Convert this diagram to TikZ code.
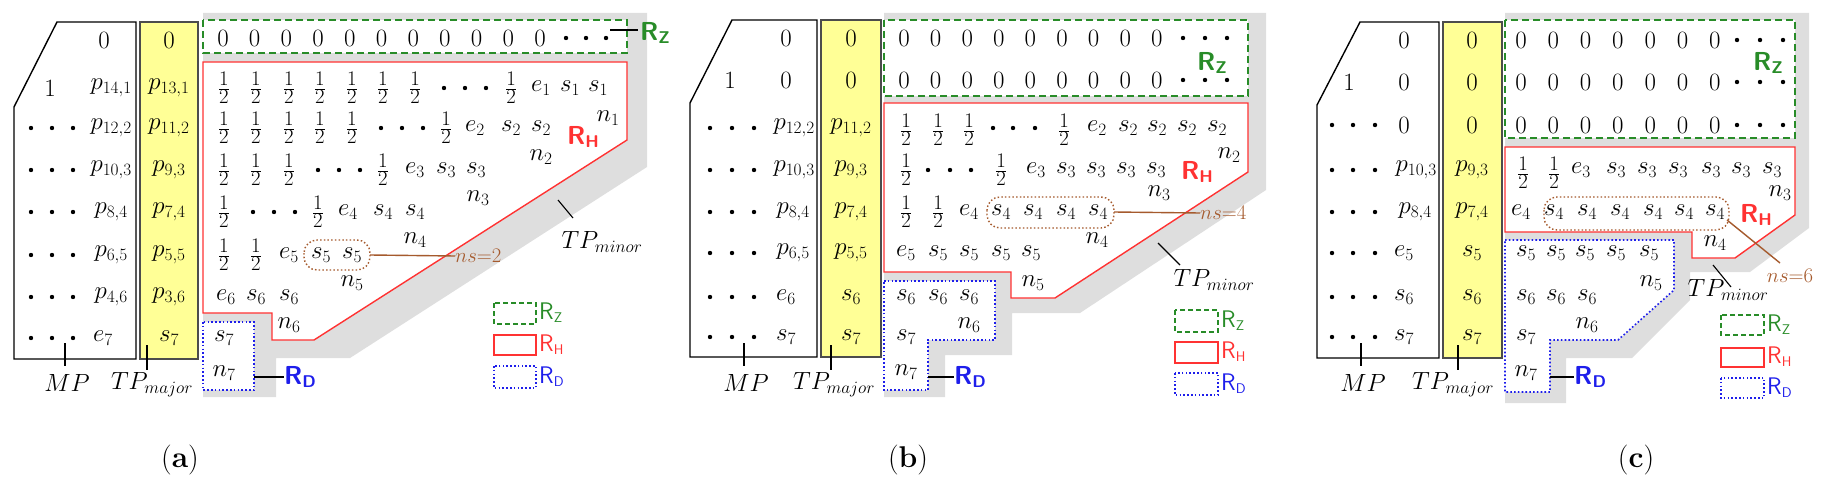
\documentclass[tikz,border=0pt]{standalone}
\usepackage{amsmath}
\definecolor{shd}{RGB}{222,222,222}
\definecolor{gz}{RGB}{40,140,40}
\definecolor{rr}{RGB}{255,50,50}
\definecolor{bd}{RGB}{30,30,235}
\definecolor{br}{RGB}{165,90,45}
\definecolor{yel}{RGB}{255,255,150}
\newcommand\hf{{\fontsize{31}{34}\selectfont$\frac{1}{2}$}}
\newcommand\tdots[4]{\foreach \xx in {#1,#2,#3} \fill (\xx,#4) circle (2.2);}
\newcommand\RL[1]{\textsf{\bfseries R}\raisebox{-0.35ex}{\fontsize{17}{20}\selectfont\textsf{\bfseries #1}}}
\newcommand\RS[1]{\textsf{R}\raisebox{-0.3ex}{\fontsize{14}{16}\selectfont\textsf{#1}}}
\begin{document}
\begin{tikzpicture}[x=1pt,y=-1pt,
 t/.style={font=\fontsize{26}{30}\selectfont,inner sep=0pt},
 ns/.style={font=\fontsize{20}{23}\selectfont,inner sep=0pt,text=br},
 lab/.style={font=\fontsize{24}{28}\selectfont,inner sep=0pt},
 shadow/.style={fill=shd,draw=none},
 rz/.style={draw=gz,line width=1.6pt,dash pattern=on 7pt off 4pt,fill=white},
 rh/.style={draw=rr,line width=1.4pt,fill=white},
 rd/.style={draw=bd,line width=1.6pt,dash pattern=on 1.6pt off 2.2pt,fill=white},
 mp/.style={draw=black,line width=1.4pt,fill=white},
 tpm/.style={draw=black!70,line width=2pt,fill=yel},
 ell/.style={draw=br,line width=1.4pt,dash pattern=on 1.5pt off 2.2pt,rounded corners=13pt},
 lead/.style={draw=black,line width=1.1pt},
 brl/.style={draw=br,line width=1.4pt},
 capt/.style={font=\fontsize{30}{34}\selectfont,inner sep=0pt}]
\useasboundingbox (0,0) rectangle (1825,492);

% ================= PANEL A =================
\fill[shadow] (203,13) -- (647,13) -- (647,167) -- (350,358) -- (276,358) -- (276,397) -- (203,397) -- cycle;
\draw[mp] (57,22) -- (136,22) -- (136,359) -- (14,359) -- (14,107) -- cycle;
\draw[tpm] (140,22) rectangle (198,359);
\draw[rz] (203,20) rectangle (627,53);
\draw[rh] (203,62) -- (627,62) -- (627,140) -- (314,340) -- (272,340) -- (272,313) -- (203,313) -- cycle;
\draw[rd] (203,322) rectangle (254,390);
\node[t] (aM0) at (104,40) {$0$};
\node[t] (aM1a) at (50,88) {$1$};
\node[t,anchor=east] (aM1) at (132,88) {$p_{14,1}$};
\node[t,anchor=east] (aM2) at (132,128) {$p_{12,2}$};
\node[t,anchor=east] (aM3) at (132,170) {$p_{10,3}$};
\node[t,anchor=east] (aM4) at (128,212) {$p_{8,4}$};
\node[t,anchor=east] (aM5) at (128,255) {$p_{6,5}$};
\node[t,anchor=east] (aM6) at (128,297) {$p_{4,6}$};
\node[t] (aM7) at (103,338) {$e_7$};
\foreach \y in {128,170,212,255,297,338} {\tdots{31}{52}{73}{\y}}
\node[t] (aY0) at (169,40) {$0$};
\node[t] (aY1) at (169,88) {$p_{13,1}$};
\node[t] (aY2) at (169,128) {$p_{11,2}$};
\node[t] (aY3) at (169,170) {$p_{9,3}$};
\node[t] (aY4) at (169,212) {$p_{7,4}$};
\node[t] (aY5) at (169,255) {$p_{5,5}$};
\node[t] (aY6) at (169,297) {$p_{3,6}$};
\node[t] (aY7) at (169,338) {$s_7$};
\foreach \i in {0,...,10} \node[t] (aZ\i) at (223+31.7*\i,38) {$0$};
\tdots{566}{586}{606}{38}
\draw[lead] (610,30) -- (638,30);
\node[t,anchor=west,text=gz] (aRZ) at (640,33) {\RL{Z}};
\foreach \x [count=\k] in {224,256,289,320,352,383,415,511} \node[t] (a1h\k) at (\x,88) {\hf};
\tdots{444}{465}{486}{88}
\node[t] (a1e) at (541,88) {$e_1$};
\node[t] (a1s1) at (570,88) {$s_1$};
\node[t] (a1s2) at (598,88) {$s_1$};
\node[t] (an1) at (608,118) {$n_1$};
\node[t,text=rr] (aRH) at (583,137) {\RL{H}};
\foreach \x [count=\k] in {224,256,289,320,352,446} \node[t] (a2h\k) at (\x,128) {\hf};
\tdots{381}{402}{423}{128}
\node[t] (a2e) at (475,128) {$e_2$};
\node[t] (a2s1) at (511,128) {$s_2$};
\node[t] (a2s2) at (541,128) {$s_2$};
\node[t] (an2) at (541,157) {$n_2$};
\foreach \x [count=\k] in {224,256,289,383} \node[t] (a3h\k) at (\x,170) {\hf};
\tdots{318}{339}{360}{170}
\node[t] (a3e) at (415,170) {$e_3$};
\node[t] (a3s1) at (446,170) {$s_3$};
\node[t] (a3s2) at (476,170) {$s_3$};
\node[t] (an3) at (478,198) {$n_3$};
\foreach \x [count=\k] in {224,318} \node[t] (a4h\k) at (\x,212) {\hf};
\tdots{253}{274}{295}{212}
\node[t] (a4e) at (348,212) {$e_4$};
\node[t] (a4s1) at (383,212) {$s_4$};
\node[t] (a4s2) at (415,212) {$s_4$};
\node[t] (an4) at (415,240) {$n_4$};
\foreach \x [count=\k] in {224,256} \node[t] (a5h\k) at (\x,255) {\hf};
\node[t] (a5e) at (289,255) {$e_5$};
\node[t] (a5s1) at (321,255) {$s_5$};
\node[t] (a5s2) at (352,255) {$s_5$};
\node[t] (an5) at (352,283) {$n_5$};
\draw[ell] (304,240) rectangle (370,270);
\coordinate (aEr) at (370,255);
\node[ns,anchor=west] (aNS) at (455,256) {$ns{=}2$};
\draw[brl] (aEr) -- (aNS.west);
\node[t] (a6e) at (226,297) {$e_6$};
\node[t] (a6s1) at (256,297) {$s_6$};
\node[t] (a6s2) at (289,297) {$s_6$};
\node[t] (an6) at (289,325) {$n_6$};
\node[t] (a7s) at (224,338) {$s_7$};
\node[t] (an7) at (224,373) {$n_7$};
\node[t,anchor=west,text=bd] (aRD) at (284,377) {\RL{D}};
\coordinate (aRDl) at (254,377);
\draw[lead] (aRDl) -- (aRD.west);
\node[lab] (aTPm) at (602,242) {$TP_{minor}$};
\draw[lead] (558,200) -- (573,218);
\node[lab] (aMP) at (67,383) {$MP$};
\draw[lead] (65,343) -- (65,366);
\node[lab] (aTPM) at (152,385) {$TP_{major}$};
\draw[lead] (147,345) -- (147,370);
\draw[rz,line width=1.3pt,dash pattern=on 5pt off 3pt] (494,303) rectangle (536,324);
\node[lab,anchor=west,text=gz] (aLz) at (539,313) {\RS{Z}};
\draw[rh] (494,335) rectangle (536,355);
\node[lab,anchor=west,text=rr] (aLh) at (539,345) {\RS{H}};
\draw[rd,line width=1.3pt] (494,366) rectangle (536,388);
\node[lab,anchor=west,text=bd] (aLd) at (539,377) {\RS{D}};
\node[capt] (capa) at (180,460) {(\textbf{a})};

% ================= PANEL B =================
\fill[shadow] (884,13) -- (1266,13) -- (1266,190) -- (1080,313) -- (1012,313) -- (1012,355) -- (945,355) -- (945,397) -- (884,397) -- cycle;
\draw[mp] (732,20) -- (817,20) -- (817,357) -- (690,357) -- (690,103) -- cycle;
\draw[tpm] (821,20) rectangle (881,357);
\draw[rz] (884,20) rectangle (1248,96);
\draw[rh] (884,103) -- (1248,103) -- (1248,172) -- (1055,298) -- (1011,298) -- (1011,272) -- (884,272) -- cycle;
\draw[rd] (884,281) -- (995,281) -- (995,340) -- (928,340) -- (928,390) -- (884,390) -- cycle;
\node[t] (bM0) at (786,38) {$0$};
\node[t] (bM1a) at (730,80) {$1$};
\node[t] (bM1) at (786,80) {$0$};
\node[t,anchor=east] (bM2) at (815,128) {$p_{12,2}$};
\node[t,anchor=east] (bM3) at (815,170) {$p_{10,3}$};
\node[t,anchor=east] (bM4) at (810,212) {$p_{8,4}$};
\node[t,anchor=east] (bM5) at (810,253) {$p_{6,5}$};
\node[t] (bM6) at (786,297) {$e_6$};
\node[t] (bM7) at (786,337) {$s_7$};
\foreach \y in {128,170,212,253,297,337} {\tdots{710}{732}{754}{\y}}
\node[t] (bY0) at (851,38) {$0$};
\node[t] (bY1) at (851,80) {$0$};
\node[t] (bY2) at (851,128) {$p_{11,2}$};
\node[t] (bY3) at (851,170) {$p_{9,3}$};
\node[t] (bY4) at (851,212) {$p_{7,4}$};
\node[t] (bY5) at (851,253) {$p_{5,5}$};
\node[t] (bY6) at (851,297) {$s_6$};
\node[t] (bY7) at (851,337) {$s_7$};
\foreach \i in {0,...,8} {\node[t] (bZa\i) at (904+31.6*\i,38) {$0$}; \node[t] (bZb\i) at (904+31.6*\i,80) {$0$};}
\tdots{1183}{1205}{1227}{38}
\tdots{1183}{1205}{1227}{80}
\node[t,text=gz] (bRZ) at (1212,63) {\RL{Z}};
\foreach \x [count=\k] in {906,938,969,1064} \node[t] (b2h\k) at (\x,130) {\hf};
\tdots{993}{1013}{1035}{128}
\node[t] (b2e) at (1097,128) {$e_2$};
\foreach \x [count=\k] in {1128,1157,1187,1217} \node[t] (b2s\k) at (\x,128) {$s_2$};
\node[t,text=rr] (bRH) at (1197,172) {\RL{H}};
\node[t] (bn2) at (1229,155) {$n_2$};
\foreach \x [count=\k] in {906,1001} \node[t] (b3h\k) at (\x,170) {\hf};
\tdots{928}{950}{971}{170}
\node[t] (b3e) at (1036,170) {$e_3$};
\foreach \x [count=\k] in {1066,1096,1126,1156} \node[t] (b3s\k) at (\x,170) {$s_3$};
\node[t] (bn3) at (1159,193) {$n_3$};
\foreach \x [count=\k] in {906,938} \node[t] (b4h\k) at (\x,212) {\hf};
\node[t] (b4e) at (969,212) {$e_4$};
\foreach \x [count=\k] in {1001,1033,1066,1098} \node[t] (b4s\k) at (\x,212) {$s_4$};
\node[t] (bn4) at (1097,240) {$n_4$};
\draw[ell] (987,197) rectangle (1114,228);
\coordinate (bEr) at (1114,212);
\node[ns,anchor=west] (bNS) at (1200,213) {$ns{=}4$};
\draw[brl] (bEr) -- (bNS.west);
\node[t] (b5e) at (906,253) {$e_5$};
\foreach \x [count=\k] in {938,969,1001,1031} \node[t] (b5s\k) at (\x,253) {$s_5$};
\node[t] (bn5) at (1033,283) {$n_5$};
\foreach \x [count=\k] in {906,938,969} \node[t] (b6s\k) at (\x,297) {$s_6$};
\node[t] (bn6) at (969,325) {$n_6$};
\node[t] (b7s) at (906,337) {$s_7$};
\node[t] (bn7) at (906,372) {$n_7$};
\node[t,anchor=west,text=bd] (bRD) at (954,377) {\RL{D}};
\coordinate (bRDl) at (928,377);
\draw[lead] (bRDl) -- (bRD.west);
\node[lab] (bTPm) at (1214,280) {$TP_{minor}$};
\draw[lead] (1158,243) -- (1180,265);
\node[lab] (bMP) at (746,383) {$MP$};
\draw[lead] (744,343) -- (744,366);
\node[lab] (bTPM) at (834,385) {$TP_{major}$};
\draw[lead] (831,345) -- (831,370);
\draw[rz,line width=1.3pt,dash pattern=on 5pt off 3pt] (1175,310) rectangle (1218,332);
\node[lab,anchor=west,text=gz] (bLz) at (1221,321) {\RS{Z}};
\draw[rh] (1175,342) rectangle (1218,363);
\node[lab,anchor=west,text=rr] (bLh) at (1221,352) {\RS{H}};
\draw[rd,line width=1.3pt] (1175,373) rectangle (1218,395);
\node[lab,anchor=west,text=bd] (bLd) at (1221,384) {\RS{D}};
\node[capt] (capb) at (908,460) {(\textbf{b})};

% ================= PANEL C =================
\fill[shadow] (1505,13) -- (1809,13) -- (1809,228) -- (1750,272) -- (1690,272) -- (1690,300) -- (1632,358) -- (1566,358) -- (1566,403) -- (1505,403) -- cycle;
\draw[mp] (1360,22) -- (1439,22) -- (1439,358) -- (1317,358) -- (1317,105) -- cycle;
\draw[tpm] (1443,22) rectangle (1502,358);
\draw[rz] (1505,20) rectangle (1795,138);
\draw[rh] (1505,147) -- (1795,147) -- (1795,215) -- (1735,258) -- (1692,258) -- (1692,232) -- (1505,232) -- cycle;
\draw[rd] (1505,240) -- (1674,240) -- (1674,290) -- (1618,340) -- (1550,340) -- (1550,392) -- (1505,392) -- cycle;
\node[t] (cM0) at (1404,40) {$0$};
\node[t] (cM1a) at (1349,82) {$1$};
\node[t] (cM1) at (1404,82) {$0$};
\node[t] (cM2) at (1404,125) {$0$};
\node[t,anchor=east] (cM3) at (1437,170) {$p_{10,3}$};
\node[t,anchor=east] (cM4) at (1432,212) {$p_{8,4}$};
\node[t] (cM5) at (1404,253) {$e_5$};
\node[t] (cM6) at (1404,297) {$s_6$};
\node[t] (cM7) at (1404,337) {$s_7$};
\foreach \y in {125,170,212,253,297,337} {\tdots{1332}{1353}{1375}{\y}}
\node[t] (cY0) at (1472,40) {$0$};
\node[t] (cY1) at (1472,82) {$0$};
\node[t] (cY2) at (1472,125) {$0$};
\node[t] (cY3) at (1472,170) {$p_{9,3}$};
\node[t] (cY4) at (1472,212) {$p_{7,4}$};
\node[t] (cY5) at (1472,253) {$s_5$};
\node[t] (cY6) at (1472,297) {$s_6$};
\node[t] (cY7) at (1472,337) {$s_7$};
\foreach \i in {0,...,6} {\node[t] (cZa\i) at (1521+32.3*\i,40) {$0$}; \node[t] (cZb\i) at (1521+32.3*\i,82) {$0$}; \node[t] (cZc\i) at (1521+32.3*\i,125) {$0$};}
\tdots{1737}{1760}{1783}{40}
\tdots{1737}{1760}{1783}{82}
\tdots{1737}{1760}{1783}{125}
\node[t,text=gz,fill=white,inner sep=1pt] (cRZ) at (1768,63) {\RL{Z}};
\foreach \x [count=\k] in {1523,1554} \node[t] (c3h\k) at (\x,173) {\hf};
\node[t] (c3e) at (1581,170) {$e_3$};
\foreach \x [count=\k] in {1616,1647,1678,1711,1741,1772} \node[t] (c3s\k) at (\x,170) {$s_3$};
\node[t] (c4e) at (1521,212) {$e_4$};
\foreach \x [count=\k] in {1554,1587,1620,1653,1684,1715} \node[t] (c4s\k) at (\x,212) {$s_4$};
\draw[ell] (1544,197) rectangle (1729,230);
\node[t,text=rr] (cRH) at (1756,215) {\RL{H}};
\node[t] (cn3) at (1780,193) {$n_3$};
\node[t] (cn4) at (1715,243) {$n_4$};
\coordinate (cEr) at (1727,220);
\node[ns] (cNS) at (1790,276) {$ns{=}6$};
\draw[brl] (cEr) -- (1780,263);
\foreach \x [count=\k] in {1526,1556,1585,1616,1649} \node[t] (c5s\k) at (\x,253) {$s_5$};
\node[t] (cn5) at (1651,283) {$n_5$};
\foreach \x [count=\k] in {1526,1556,1587} \node[t] (c6s\k) at (\x,297) {$s_6$};
\node[t] (cn6) at (1587,325) {$n_6$};
\node[t] (c7s) at (1526,337) {$s_7$};
\node[t] (cn7) at (1526,373) {$n_7$};
\node[t,anchor=west,text=bd] (cRD) at (1574,377) {\RL{D}};
\coordinate (cRDl) at (1550,377);
\draw[lead] (cRDl) -- (cRD.west);
\node[lab] (cTPm) at (1728,290) {$TP_{minor}$};
\draw[lead] (1713,265) -- (1731,287);
\node[lab] (cMP) at (1363,383) {$MP$};
\draw[lead] (1361,343) -- (1361,366);
\node[lab] (cTPM) at (1453,385) {$TP_{major}$};
\draw[lead] (1458,345) -- (1458,370);
\draw[rz,line width=1.3pt,dash pattern=on 5pt off 3pt] (1721,315) rectangle (1764,335);
\node[lab,anchor=west,text=gz] (cLz) at (1767,325) {\RS{Z}};
\draw[rh] (1721,348) rectangle (1764,367);
\node[lab,anchor=west,text=rr] (cLh) at (1767,357) {\RS{H}};
\draw[rd,line width=1.3pt] (1721,378) rectangle (1764,398);
\node[lab,anchor=west,text=bd] (cLd) at (1767,388) {\RS{D}};
\node[capt] (capc) at (1636,460) {(\textbf{c})};
\end{tikzpicture}
\end{document}
